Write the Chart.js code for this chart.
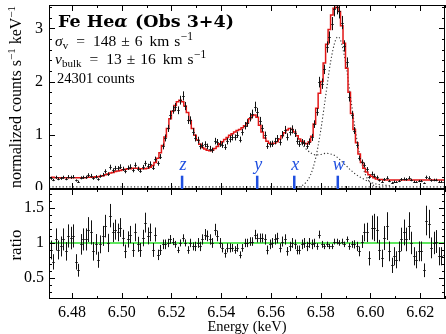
<!DOCTYPE html>
<html>
<head>
<meta charset="utf-8">
<script src="https://cdn.jsdelivr.net/npm/chart.js@4.4.1/dist/chart.umd.min.js"></script>
<style>
html, body { margin: 0; padding: 0; background: #fff; }
#top { position: absolute; left: 0; top: 0; width: 446px; height: 190px; }
#bot { position: absolute; left: 0; top: 189px; width: 446px; height: 145px; }
</style>
</head>
<body>
<div id="top"><canvas id="specChart"></canvas></div>
<div id="bot"><canvas id="ratioChart"></canvas></div>
<script>
// spectrum bins: 1 eV wide, first bin centred at 6.4715 keV
const binStart = 6.4715
const binWidth = 0.001

const counts = [
  0.18,0.15,0.20,0.17,0.18,0.20,0.17,0.21,0.20,0.21,
  0.14,0.12,0.19,0.20,0.20,0.24,0.23,0.18,0.21,0.16,
  0.22,0.25,0.31,0.26,0.39,0.33,0.37,0.37,0.40,0.36,
  0.31,0.38,0.40,0.33,0.43,0.36,0.32,0.39,0.46,0.41,
  0.45,0.38,0.54,0.46,0.59,0.78,0.94,1.12,1.37,1.47,
  1.52,1.46,1.65,1.73,1.54,1.28,1.27,1.06,0.94,0.90,
  0.78,0.80,0.82,0.78,0.74,0.71,0.88,0.86,0.83,0.81,
  0.77,0.88,0.92,0.95,0.95,1.00,0.91,1.05,1.17,1.22,
  1.33,1.39,1.53,1.42,1.26,1.12,0.99,0.79,0.82,0.83,
  0.88,0.93,0.86,1.00,1.09,0.96,1.06,1.10,1.03,0.88,
  0.83,0.86,0.84,0.79,0.87,0.95,1.20,1.43,1.99,1.96,
  2.23,2.65,2.83,3.09,3.36,3.40,3.32,3.11,2.67,2.36,
  1.71,1.37,1.08,0.81,0.56,0.49,0.43,0.35,0.20,0.27,
  0.23,0.20,0.14,0.12,0.16,0.19,0.13,0.10,0.12,0.11,
  0.13,0.16,0.17,0.16,0.19,0.15,0.12,0.11,0.13,0.13,
  0.09,0.20,0.19,0.14,0.15,0.15,0.12,0.12,0.12,0.12
]

// relative 1-sigma errors of each bin
const relErr = [
  0.15,0.15,0.15,0.15,0.15,0.15,0.15,0.15,0.15,0.15,
  0.15,0.15,0.15,0.15,0.15,0.15,0.15,0.15,0.15,0.15,
  0.13,0.13,0.13,0.13,0.12,0.12,0.12,0.11,0.11,0.11,
  0.11,0.11,0.11,0.11,0.11,0.11,0.11,0.11,0.11,0.11,
  0.11,0.11,0.09,0.09,0.08,0.07,0.07,0.06,0.06,0.05,
  0.05,0.05,0.05,0.05,0.05,0.06,0.06,0.06,0.07,0.07,
  0.07,0.07,0.07,0.07,0.07,0.07,0.07,0.07,0.07,0.07,
  0.07,0.07,0.07,0.06,0.06,0.06,0.06,0.06,0.06,0.06,
  0.06,0.06,0.06,0.06,0.06,0.06,0.07,0.07,0.07,0.07,
  0.07,0.07,0.07,0.07,0.07,0.07,0.07,0.07,0.07,0.07,
  0.07,0.07,0.07,0.07,0.07,0.07,0.06,0.05,0.05,0.05,
  0.04,0.04,0.04,0.04,0.04,0.04,0.04,0.04,0.04,0.04,
  0.05,0.05,0.06,0.07,0.08,0.09,0.11,0.12,0.13,0.14,
  0.16,0.16,0.16,0.16,0.16,0.16,0.16,0.16,0.16,0.16,
  0.16,0.16,0.16,0.16,0.16,0.16,0.16,0.16,0.16,0.16,
  0.16,0.16,0.16,0.16,0.16,0.16,0.16,0.16,0.16,0.16
]

// best-fit model (red histogram)
const model = [
  0.20,0.20,0.19,0.19,0.19,0.19,0.19,0.19,0.19,0.19,
  0.19,0.19,0.19,0.19,0.19,0.20,0.20,0.20,0.21,0.21,
  0.22,0.23,0.25,0.26,0.28,0.29,0.31,0.32,0.33,0.34,
  0.35,0.36,0.36,0.37,0.37,0.37,0.36,0.36,0.36,0.37,
  0.39,0.42,0.48,0.56,0.66,0.80,0.96,1.12,1.30,1.44,
  1.55,1.62,1.65,1.62,1.54,1.42,1.27,1.12,0.99,0.90,
  0.82,0.76,0.73,0.71,0.70,0.71,0.74,0.78,0.83,0.87,
  0.91,0.95,0.99,1.02,1.05,1.08,1.10,1.13,1.17,1.22,
  1.30,1.36,1.37,1.33,1.18,1.05,0.94,0.88,0.84,0.83,
  0.84,0.87,0.92,0.98,1.04,1.09,1.12,1.10,1.05,0.98,
  0.92,0.88,0.84,0.83,0.87,0.97,1.20,1.50,1.78,2.00,
  2.35,2.70,2.98,3.25,3.38,3.40,3.32,3.05,2.72,2.25,
  1.80,1.40,1.10,0.85,0.64,0.48,0.37,0.30,0.25,0.22,
  0.19,0.17,0.16,0.16,0.15,0.15,0.15,0.15,0.15,0.15,
  0.15,0.15,0.15,0.15,0.15,0.15,0.15,0.15,0.15,0.15,
  0.15,0.15,0.15,0.15,0.15,0.15,0.15,0.15,0.15,0.15
]

// data / model
const ratio = [
  0.90,0.73,1.05,0.90,0.95,1.05,0.88,1.10,1.07,1.10,
  0.73,0.61,0.98,1.05,1.05,1.19,1.15,0.88,0.98,0.76,
  0.98,1.10,1.24,1.00,1.39,1.15,1.19,1.15,1.22,1.07,
  0.88,1.05,1.12,0.90,1.15,0.98,0.90,1.07,1.29,1.10,
  1.15,0.90,1.12,0.83,0.90,0.98,0.98,1.00,1.05,1.02,
  0.98,0.90,1.00,1.07,1.00,0.90,1.00,0.95,0.95,1.00,
  0.95,1.05,1.12,1.10,1.05,1.00,1.19,1.10,1.00,0.93,
  0.85,0.93,0.93,0.93,0.90,0.93,0.83,0.93,1.00,1.00,
  1.02,1.02,1.12,1.07,1.07,1.07,1.05,0.90,0.98,1.00,
  1.05,1.07,0.93,1.02,1.05,0.88,0.95,1.00,0.98,0.90,
  0.90,0.98,1.00,0.95,1.00,0.98,1.00,0.95,1.12,0.98,
  0.95,0.98,0.95,0.95,1.02,1.02,1.00,1.02,0.98,1.05,
  0.95,0.98,0.98,0.95,0.88,1.02,1.15,1.15,0.78,1.22,
  1.22,1.19,0.90,0.78,1.07,1.24,0.88,0.68,0.81,0.76,
  0.88,1.05,1.15,1.05,1.24,1.00,0.81,0.76,0.88,0.88,
  0.61,1.32,1.27,0.93,1.00,1.02,0.81,0.81,0.83,0.81
]

// dotted model components
const wLineE = [6.570,6.572,6.574,6.576,6.578,6.580,6.582,6.584,6.586,6.587,6.588,6.590,6.592,6.594,6.596,6.598,6.600,6.602,6.604]
const wLineV = [0.01,0.03,0.10,0.25,0.56,1.07,1.72,2.37,2.78,2.84,2.78,2.37,1.72,1.07,0.56,0.25,0.10,0.03,0.01]
const otherE = [6.570,6.572,6.574,6.576,6.578,6.580,6.582,6.584,6.586,6.588,6.590,6.592,6.594,6.596,6.598,6.600,6.602,6.604,6.606,6.608]
const otherV = [1.00,0.86,0.74,0.66,0.62,0.63,0.65,0.64,0.60,0.52,0.43,0.34,0.26,0.20,0.15,0.11,0.08,0.06,0.05,0.04]
const baseLevel = 0.02

const lineNames = ['z', 'y', 'x', 'w']
const lineEnergies = [6.5243, 6.5545, 6.5694, 6.5869]

const xMin = 6.4708, xMax = 6.6300
const xMajor = [6.48, 6.50, 6.52, 6.54, 6.56, 6.58, 6.60, 6.62]
const xMinor = [6.48, 6.49, 6.50, 6.51, 6.52, 6.53, 6.54, 6.55, 6.56, 6.57, 6.58, 6.59, 6.60, 6.61, 6.62, 6.63]
const yMajorTop = [0, 1, 2, 3]
const yMinorTop = [0, 0.2, 0.4, 0.6, 0.8, 1, 1.2, 1.4, 1.6, 1.8, 2, 2.2, 2.4, 2.6, 2.8, 3, 3.2, 3.4]
const yMajorRatio = [0.5, 1, 1.5]
const yMinorRatio = [0.3, 0.4, 0.5, 0.6, 0.7, 0.8, 0.9, 1, 1.1, 1.2, 1.3, 1.4, 1.5, 1.6, 1.7]

const energy = counts.map((c, i) => +(binStart + i * binWidth).toFixed(4))
const countErr = counts.map((c, i) => c * relErr[i])
const ratioErr = ratio.map((r, i) => r * relErr[i])

const SERIF = '"Liberation Serif", "DejaVu Serif", serif'
const pts = (xs, ys) => xs.map((x, i) => ({ x: x, y: ys[i] }))

// fixed axis boxes, no extra room for edge labels
const fixWidth = w => s => { s.width = w; s.paddingTop = 0; s.paddingBottom = 0 }
const fixHeight = h => s => { s.height = h; s.paddingLeft = 0; s.paddingRight = 0 }

// data crosses: vertical error + horizontal bin width
function errorBars(values, errors) {
  return {
    id: 'errorBars',
    afterDatasetsDraw(chart) {
      const { ctx, chartArea: a, scales: { x, y } } = chart
      ctx.save()
      ctx.beginPath(); ctx.rect(a.left, a.top, a.right - a.left, a.bottom - a.top); ctx.clip()
      ctx.strokeStyle = '#111'; ctx.lineWidth = 1
      ctx.beginPath()
      values.forEach((v, i) => {
        const px = Math.round(x.getPixelForValue(energy[i])) + 0.5
        const half = x.getPixelForValue(energy[i] + binWidth / 2) - x.getPixelForValue(energy[i])
        ctx.moveTo(px, y.getPixelForValue(v - errors[i]))
        ctx.lineTo(px, y.getPixelForValue(v + errors[i]))
        const py = Math.round(y.getPixelForValue(v)) + 0.5
        ctx.moveTo(px - half, py); ctx.lineTo(px + half, py)
      })
      ctx.stroke()
      ctx.restore()
    }
  }
}

// box frame with inward ticks on all sides
function frameTicks(xMaj, xMin_, yMaj, yMin_) {
  return {
    id: 'frameTicks',
    afterDraw(chart) {
      const { ctx, chartArea: a, scales: { x, y } } = chart
      ctx.save()
      ctx.strokeStyle = '#000'; ctx.lineWidth = 1
      ctx.strokeRect(a.left + 0.5, a.top + 0.5, a.right - a.left - 1, a.bottom - a.top - 1)
      ctx.beginPath()
      const xt = (v, len) => {
        const px = Math.round(x.getPixelForValue(v)) + 0.5
        ctx.moveTo(px, a.bottom); ctx.lineTo(px, a.bottom - len)
        ctx.moveTo(px, a.top); ctx.lineTo(px, a.top + len)
      }
      const yt = (v, len) => {
        const py = Math.round(y.getPixelForValue(v)) + 0.5
        ctx.moveTo(a.left, py); ctx.lineTo(a.left + len, py)
        ctx.moveTo(a.right, py); ctx.lineTo(a.right - len, py)
      }
      xMin_.forEach(v => xt(v, 3)); xMaj.forEach(v => xt(v, 6))
      yMin_.forEach(v => yt(v, 3)); yMaj.forEach(v => yt(v, 6))
      ctx.stroke()
      ctx.restore()
    }
  }
}

function richWidth(ctx, parts) {
  let w = 0
  parts.forEach(p => { ctx.font = p.f; w += ctx.measureText(p.t).width + (p.sp || 0) })
  return w
}
function rich(ctx, parts, x, y) {
  let cx = x
  parts.forEach(p => {
    ctx.font = p.f
    ctx.fillText(p.t, cx, y + (p.dy || 0))
    cx += ctx.measureText(p.t).width + (p.sp || 0)
  })
}

const f15 = '15.5px ' + SERIF, i15 = 'italic 15.5px ' + SERIF, f11 = '11px ' + SERIF, sup = '11.5px ' + SERIF
const bold = 'bold 17.5px "DejaVu Serif", serif', boldIt = 'italic bold 17.5px "DejaVu Serif", serif'

// math-style line: symbol_sub = val ± err km s^-1, TeX-like spacing
function mathLine(sym, sub, val, err) {
  return [
    { t: sym, f: i15 }, { t: sub, f: f11, dy: 3, sp: 8 },
    { t: '=', f: f15, sp: 8 }, { t: val, f: f15, sp: 5 },
    { t: '±', f: f15, sp: 5 }, { t: err, f: f15, sp: 7 },
    { t: 'km', f: f15, sp: 5 }, { t: 's', f: f15, sp: 0.5 },
    { t: '−1', f: sup, dy: -6 }
  ]
}

const specText = {
  id: 'specText',
  afterDraw(chart) {
    const { ctx, chartArea: a, scales: { x, y } } = chart
    ctx.save()
    ctx.fillStyle = '#000'; ctx.textBaseline = 'alphabetic'; ctx.textAlign = 'left'
    rich(ctx, [{ t: 'Fe He', f: bold }, { t: 'α', f: boldIt, sp: 1 }, { t: ' (Obs 3+4)', f: bold }], 58, 27)
    rich(ctx, mathLine('σ', 'v', '148', '6'), 55, 46)
    rich(ctx, mathLine('v', 'bulk', '13', '16'), 55, 64)
    rich(ctx, [{ t: '24301 counts', f: '14.5px ' + SERIF }], 57, 83)

    // y title
    const parts = [{ t: 'normalized counts s', f: '16px ' + SERIF }, { t: '−1', f: '11px ' + SERIF, dy: -6 },
                   { t: ' keV', f: '16px ' + SERIF }, { t: '−1', f: '11px ' + SERIF, dy: -6 }]
    ctx.translate(21, 97); ctx.rotate(-Math.PI / 2)
    rich(ctx, parts, -richWidth(ctx, parts) / 2, 0)
    ctx.restore()

    // line markers
    ctx.save()
    ctx.fillStyle = '#1f4fe0'; ctx.textAlign = 'center'
    ctx.font = 'italic 18px ' + SERIF
    lineEnergies.forEach((e, i) => {
      const px = x.getPixelForValue(e)
      const top = y.getPixelForValue(0.23)
      ctx.fillRect(px - 1.25, top, 2.5, a.bottom - top)
      ctx.fillText(lineNames[i], px + 1, 170)
    })
    ctx.restore()
  }
}

const ratioText = {
  id: 'ratioText',
  afterDraw(chart) {
    const { ctx } = chart
    ctx.save()
    ctx.fillStyle = '#000'; ctx.textAlign = 'center'; ctx.textBaseline = 'alphabetic'
    ctx.font = '14.5px ' + SERIF
    ctx.fillText('Energy (keV)', 247, 142)
    ctx.translate(21, 56); ctx.rotate(-Math.PI / 2)
    ctx.font = '17px ' + SERIF
    ctx.fillText('ratio', 0, 0)
    ctx.restore()
  }
}

const dotted = { showLine: true, borderColor: '#333', borderWidth: 1.1, borderDash: [1.2, 2.2], pointRadius: 0, cubicInterpolationMode: 'monotone' }

const specCtx = document.getElementById('specChart').getContext('2d')
const specChart = new Chart(specCtx, {
  type: 'scatter',
  data: {
    datasets: [
      { data: pts(energy, model), showLine: true, stepped: 'middle', borderColor: 'rgb(226,22,22)', borderWidth: 1.5, pointRadius: 0, order: 0 },
      Object.assign({ data: pts(wLineE, wLineV), order: 2 }, dotted),
      Object.assign({ data: pts(otherE, otherV), order: 3 }, dotted),
      Object.assign({ data: [{ x: xMin, y: baseLevel }, { x: xMax, y: baseLevel }], order: 4 }, dotted)
    ]
  },
  options: {
    responsive: true, maintainAspectRatio: false, animation: false, devicePixelRatio: 1,
    layout: { padding: { top: 5, right: 1, bottom: 1, left: 0 } },
    plugins: { legend: { display: false }, tooltip: { enabled: false } },
    scales: {
      x: { type: 'linear', min: xMin, max: xMax, display: false },
      y: {
        min: -0.02, max: 3.44,
        afterFit: fixWidth(49),
        afterBuildTicks: s => { s.ticks = yMajorTop.map(v => ({ value: v })) },
        grid: { display: false, drawTicks: false }, border: { display: false },
        ticks: { color: '#000', padding: 6, font: { family: SERIF, size: 16 }, callback: v => String(v) }
      }
    }
  },
  plugins: [errorBars(counts, countErr), frameTicks(xMajor, xMinor, yMajorTop, yMinorTop), specText]
})

const ratioCtx = document.getElementById('ratioChart').getContext('2d')
const ratioChart = new Chart(ratioCtx, {
  type: 'scatter',
  data: {
    datasets: [
      { data: [{ x: xMin, y: 1 }, { x: xMax, y: 1 }], showLine: true, borderColor: 'rgb(40,225,40)', borderWidth: 1.6, pointRadius: 0 }
    ]
  },
  options: {
    responsive: true, maintainAspectRatio: false, animation: false, devicePixelRatio: 1,
    layout: { padding: { top: 0, right: 1, bottom: 0, left: 0 } },
    plugins: { legend: { display: false }, tooltip: { enabled: false } },
    scales: {
      x: {
        type: 'linear', min: xMin, max: xMax,
        afterFit: fixHeight(35),
        afterBuildTicks: s => { s.ticks = xMajor.map(v => ({ value: v })) },
        grid: { display: false, drawTicks: false }, border: { display: false },
        ticks: { color: '#000', padding: 4, maxRotation: 0, font: { family: SERIF, size: 16 }, callback: v => v.toFixed(2) }
      },
      y: {
        min: 0.2, max: 1.77,
        afterFit: fixWidth(49),
        afterBuildTicks: s => { s.ticks = yMajorRatio.map(v => ({ value: v })) },
        grid: { display: false, drawTicks: false }, border: { display: false },
        ticks: { color: '#000', padding: 5, font: { family: SERIF, size: 16 }, callback: v => (v === 1 ? '1' : v.toFixed(1)) }
      }
    }
  },
  plugins: [errorBars(ratio, ratioErr), frameTicks(xMajor, xMinor, yMajorRatio, yMinorRatio), ratioText]
})
</script>
</body>
</html>
